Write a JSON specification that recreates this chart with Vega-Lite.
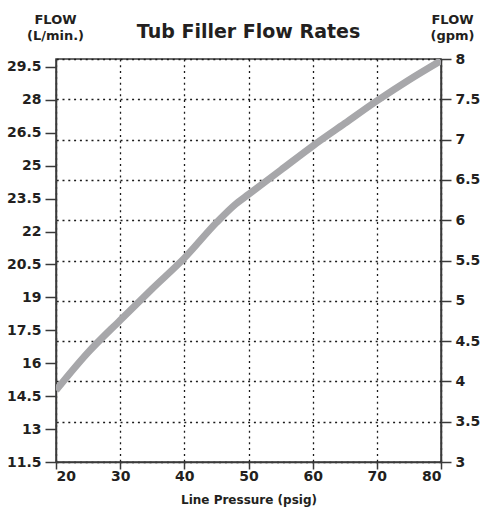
{
  "$schema": "https://vega.github.io/schema/vega-lite/v6.json",
  "width": 385,
  "height": 403,
  "autosize": "none",
  "padding": {"left": 56, "top": 59, "right": 41, "bottom": 45},
  "background": "white",
  "title": {
    "text": "Tub Filler Flow Rates",
    "font": "DejaVu Sans",
    "fontSize": 19,
    "fontWeight": "bold",
    "color": "#231f20",
    "baseline": "alphabetic",
    "anchor": "middle",
    "offset": -44
  },
  "config": {
    "view": {"stroke": "#3a3a3a", "strokeWidth": 1.5},
    "axis": {
      "labelFont": "DejaVu Sans",
      "labelFontSize": 14,
      "labelFontWeight": "bold",
      "labelColor": "#231f20",
      "titleFont": "DejaVu Sans",
      "titleFontWeight": "bold",
      "titleColor": "#231f20",
      "domainColor": "#3a3a3a",
      "domainWidth": 1.5,
      "tickColor": "#3a3a3a",
      "tickWidth": 1.5,
      "gridColor": "#1a1a1a",
      "gridDash": [2, 3.8],
      "gridWidth": 1.3,
      "gridOpacity": 1
    }
  },
  "data": {
    "values": [
      {"pressure": 20, "gpm": 3.89, "lpm": 14.76},
      {"pressure": 25, "gpm": 4.36, "lpm": 16.49},
      {"pressure": 30, "gpm": 4.76, "lpm": 17.95},
      {"pressure": 35, "gpm": 5.15, "lpm": 19.38},
      {"pressure": 40, "gpm": 5.53, "lpm": 20.77},
      {"pressure": 45, "gpm": 5.97, "lpm": 22.39},
      {"pressure": 48, "gpm": 6.2, "lpm": 23.22},
      {"pressure": 50, "gpm": 6.32, "lpm": 23.67},
      {"pressure": 55, "gpm": 6.62, "lpm": 24.77},
      {"pressure": 60, "gpm": 6.92, "lpm": 25.87},
      {"pressure": 65, "gpm": 7.2, "lpm": 26.89},
      {"pressure": 70, "gpm": 7.48, "lpm": 27.92},
      {"pressure": 75, "gpm": 7.74, "lpm": 28.87},
      {"pressure": 80, "gpm": 7.98, "lpm": 29.75}
    ]
  },
  "layer": [
    {
      "mark": {"type": "line", "stroke": "#a7a7aa", "strokeWidth": 7, "strokeCap": "butt", "interpolate": "monotone", "clip": true},
      "encoding": {
        "x": {
          "field": "pressure",
          "type": "quantitative",
          "scale": {"domain": [20, 80], "nice": false, "zero": false},
          "axis": {
            "title": "Line Pressure (psig)",
            "titleFontSize": 12,
            "titleBaseline": "alphabetic",
            "titleY": 41,
            "values": [20, 30, 40, 50, 60, 70, 80],
            "grid": true,
            "tickSize": 7,
            "labelPadding": 0,
            "format": ".3~g"
          }
        },
        "y": {
          "field": "gpm",
          "type": "quantitative",
          "scale": {"domain": [3, 8], "nice": false, "zero": false},
          "axis": {
            "orient": "right",
            "title": ["FLOW", "(gpm)"],
            "titleFontSize": 13,
            "titleAngle": 0,
            "titleAlign": "center",
            "titleBaseline": "alphabetic",
            "titleLineHeight": 16,
            "titleX": 11,
            "titleY": -36,
            "values": [3, 3.5, 4, 4.5, 5, 5.5, 6, 6.5, 7, 7.5, 8],
            "grid": true,
            "tickSize": 10,
            "labelPadding": 4,
            "format": ".3~g"
          }
        }
      }
    },
    {
      "mark": {"type": "line", "strokeOpacity": 0},
      "encoding": {
        "x": {"field": "pressure", "type": "quantitative"},
        "y": {
          "field": "lpm",
          "type": "quantitative",
          "scale": {"domain": [11.5, 29.86], "nice": false, "zero": false},
          "axis": {
            "orient": "left",
            "title": ["FLOW", "(L/min.)"],
            "titleFontSize": 13,
            "titleAngle": 0,
            "titleAlign": "center",
            "titleBaseline": "alphabetic",
            "titleLineHeight": 16,
            "titleX": -1,
            "titleY": -36,
            "values": [11.5, 13, 14.5, 16, 17.5, 19, 20.5, 22, 23.5, 25, 26.5, 28, 29.5],
            "grid": false,
            "tickSize": 11,
            "labelPadding": 4,
            "format": ".3~g"
          }
        }
      }
    }
  ],
  "resolve": {"scale": {"y": "independent"}}
}
